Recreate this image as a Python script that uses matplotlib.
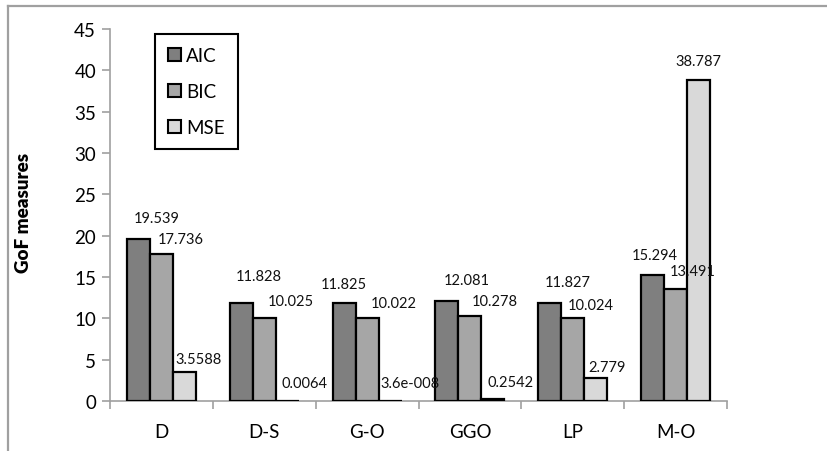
import matplotlib
matplotlib.use("Agg")
import matplotlib.pyplot as plt
import numpy as np
from matplotlib.patches import Patch
from matplotlib.lines import Line2D

categories = ["D", "D-S", "G-O", "GGO", "LP", "M-O"]
aic = [19.539, 11.828, 11.825, 12.081, 11.827, 15.294]
bic = [17.736, 10.025, 10.022, 10.278, 10.024, 13.491]
mse = [3.5588, 0.0064, 3.6e-8, 0.2542, 2.779, 38.787]
aic_labels = ["19.539", "11.828", "11.825", "12.081", "11.827", "15.294"]
bic_labels = ["17.736", "10.025", "10.022", "10.278", "10.024", "13.491"]
mse_labels = ["3.5588", "0.0064", "3.6e-008", "0.2542", "2.779", "38.787"]
series_names = ["AIC", "BIC", "MSE"]
yticks = [0, 5, 10, 15, 20, 25, 30, 35, 40, 45]

# label offsets in pixels (dx, dy) from bar top-center
aic_off = [(18, 21), (18, 27), (0, 19), (20, 21), (18, 21), (2, 20)]
bic_off = [(19, 15), (27, 17), (27, 15), (25, 15), (18, 13), (17, 18)]
mse_off = [(14, 13), (17, 18), (20, 18), (18, 17), (11, 11), (0, 19)]

colors = ["#7f7f7f", "#a6a6a6", "#d9d9d9"]
font = ["Lato", "DejaVu Sans"]
plt.rcParams["font.family"] = font

fig = plt.figure(figsize=(8.27, 4.52), dpi=100)
ax = fig.add_axes([110 / 827, 50 / 452, 617 / 827, 372 / 452])

x = np.arange(len(categories))
w = 0.224
series = [aic, bic, mse]
labels = [aic_labels, bic_labels, mse_labels]
offs = [aic_off, bic_off, mse_off]
for k in range(3):
    xs = x + (k - 1) * w
    ax.bar(xs, series[k], width=w, color=colors[k], edgecolor="black",
           linewidth=1.6, zorder=3)
    for i in range(len(categories)):
        ax.annotate(labels[k][i], (xs[i], series[k][i]),
                    xytext=offs[k][i], textcoords="offset pixels",
                    ha="center", va="center", fontsize=10.5, color="#111111",
                    zorder=5)

ax.set_xlim(-0.5, len(categories) - 0.5)
ax.set_ylim(0, 45)
ax.set_yticks(yticks)
ax.set_yticklabels([str(t) for t in yticks], fontsize=13.5)
ax.set_xticks(x)
ax.set_xticklabels(categories, fontsize=13.5)
ax.set_xticks(np.arange(-0.5, len(categories)), minor=True)
ax.tick_params(axis="x", which="major", length=0, pad=16)
ax.tick_params(axis="x", which="minor", length=6, color="#a0a0a0", width=1.2)
ax.tick_params(axis="y", which="major", length=6, color="#a0a0a0", width=1.2, pad=4)
for s in ["top", "right"]:
    ax.spines[s].set_visible(False)
for s in ["left", "bottom"]:
    ax.spines[s].set_color("#a0a0a0")
    ax.spines[s].set_linewidth(1.2)
ax.set_ylabel("GoF measures", fontsize=13.5, fontweight="heavy")
ax.yaxis.set_label_coords((32 - 110) / 617, (402 - 213) / 372)

handles = [Patch(facecolor=colors[k], edgecolor="black", linewidth=1.5)
           for k in range(3)]
leg = ax.legend(handles, series_names, loc="upper left",
                bbox_to_anchor=((155 - 110) / 617, (402 - 35) / 372),
                borderaxespad=0, fancybox=False, framealpha=1,
                edgecolor="black", handlelength=0.7, handleheight=0.7,
                handletextpad=0.25, labelspacing=1.0, fontsize=13.5,
                borderpad=0.7)
leg.get_frame().set_linewidth(1.5)

fig.add_artist(Line2D([8 / 827, 1], [1 - 7 / 452, 1 - 7 / 452],
                      transform=fig.transFigure, color="#a0a0a0", lw=1.6))
fig.add_artist(Line2D([8 / 827, 8 / 827], [0, 1 - 7 / 452],
                      transform=fig.transFigure, color="#a0a0a0", lw=1.6))

fig.savefig("out.png", dpi=100)
